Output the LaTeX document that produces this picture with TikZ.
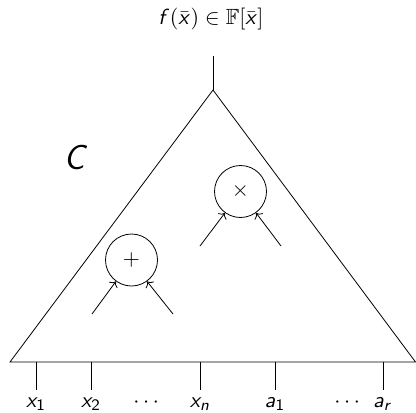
\documentclass[tikz,border=0pt]{standalone}
\usepackage{amsmath,amssymb}
\usepackage{tikz}
\usetikzlibrary{arrows.meta,positioning}
\DeclareMathAlphabet{\mathsfit}{OT1}{cmss}{m}{sl}
\newcommand{\sv}[1]{\mathsfit{#1}}
\tikzset{
  every node/.style={font=\fontsize{11}{13}\selectfont},
  gate/.style={draw, circle, minimum size=26pt, inner sep=0pt},
  wire/.style={->},
  leaf/.style={anchor=base, inner sep=2pt},
  tick/.style={shorten >=1.5pt}
}
\begin{document}
\begin{tikzpicture}[x=0.5pt,y=-0.5pt]
\useasboundingbox (0,0) rectangle (416,412);

% the circuit C
\coordinate (apex) at (213,90);
\coordinate (bl) at (10,362);
\coordinate (br) at (415.5,362);
\draw (bl) -- (apex) -- (br) -- cycle;

\coordinate (root) at (213,56);
\draw (root) -- (apex);
\node[anchor=base] (out) at (211,25)
  {$\sv{f}\mathsf{(}\bar{\sv{x}}\mathsf{)} \in \mathbb{F}\mathsf{[}\bar{\sv{x}}\mathsf{]}$};

\node[font=\fontsize{16}{18}\selectfont] (name) at (76,157) {$\sv{C}$};

% gates
\node[gate] (plus) at (131.5,260) {$+$};
\node[gate] (times) at (240.5,191.5) {$\times$};

\coordinate (p1) at (92,314);
\coordinate (p2) at (173,314);
\coordinate (t1) at (200,246);
\coordinate (t2) at (281,246);
\draw[wire] (p1) -- (plus.234);
\draw[wire] (p2) -- (plus.306);
\draw[wire] (t1) -- (times.234);
\draw[wire] (t2) -- (times.306);

% inputs
\foreach \n/\x/\v/\i in {1/36/x/1, 2/91/x/2, 3/200/x/\sv{n}, 4/275/a/1, 5/383/a/\sv{r}} {
  \coordinate (b\n) at (\x,362);
  \node[leaf] (in\n) at (\x,407) {$\sv{\v}_{\mathsf{\i}}$};
  \draw[tick] (b\n) -- (in\n.north);
}
\node[leaf] (dotsx) at (148,407) {$\cdots$};
\node[leaf] (dotsa) at (349,407) {$\cdots$};

\end{tikzpicture}
\end{document}
